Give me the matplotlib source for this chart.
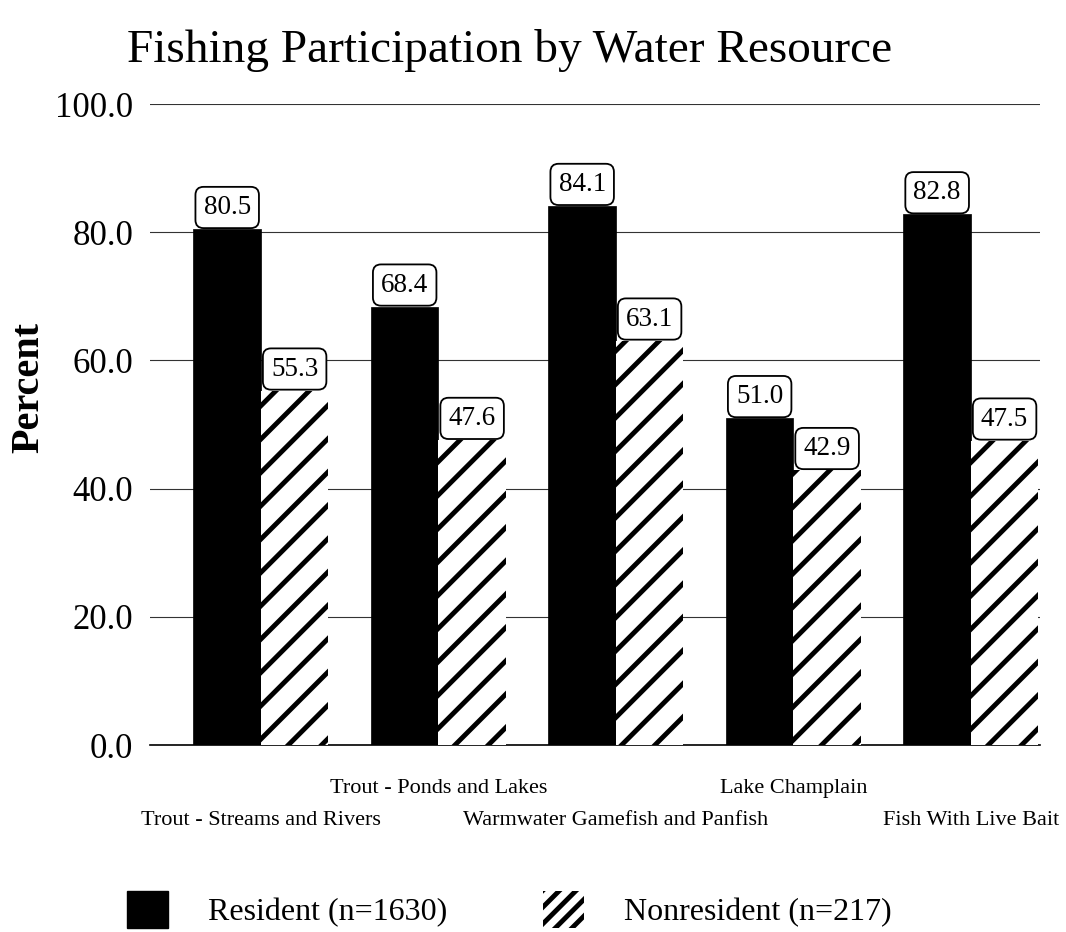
import matplotlib
matplotlib.use('Agg')
import matplotlib.pyplot as plt
import matplotlib.transforms as mtransforms
from matplotlib.patches import Patch
import numpy as np

# Данные графика
categories = ['Trout - Streams and Rivers', 'Trout - Ponds and Lakes',
              'Warmwater Gamefish and Panfish', 'Lake Champlain',
              'Fish With Live Bait']
resident = [80.5, 68.4, 84.1, 51.0, 82.8]
nonresident = [55.3, 47.6, 63.1, 42.9, 47.5]
series_labels = ['Resident (n=1630)', 'Nonresident (n=217)']
y_ticks = [0, 20, 40, 60, 80, 100]

plt.rcParams['font.family'] = ['Liberation Serif', 'DejaVu Serif']
plt.rcParams['hatch.linewidth'] = 3.5
plt.rcParams['hatch.color'] = 'black'

fig = plt.figure(figsize=(10.66, 9.32), dpi=100)
ax = fig.add_axes([0.1407, 0.2006, 0.835, 0.6878])

x = np.arange(len(categories))
w = 0.38
b1 = ax.bar(x - w / 2, resident, w, color='black', edgecolor='black', linewidth=0.5, zorder=3)
b2 = ax.bar(x + w / 2, nonresident, w, color='white', edgecolor='black', hatch='/',
            linewidth=0, zorder=3)

# Подписи значений в рамках
for bars, vals in ((b1, resident), (b2, nonresident)):
    for rect, v in zip(bars, vals):
        ax.annotate('%.1f' % v, xy=(rect.get_x() + rect.get_width() / 2, v),
                    xytext=(0, 6.5), textcoords='offset points',
                    ha='center', va='bottom', fontsize=19.5, zorder=5,
                    bbox=dict(boxstyle='round,pad=0.3,rounding_size=0.3',
                              fc='white', ec='black', lw=1.3))

ax.set_ylim(0, 100)
ax.set_xlim(-0.625, 4.39)
ax.set_yticks(y_ticks)
ax.set_yticklabels(['%.1f' % t for t in y_ticks], fontsize=25)
ax.yaxis.grid(True, color='#333333', linewidth=0.8, zorder=0)
ax.set_axisbelow(True)
for s in ('left', 'right', 'top'):
    ax.spines[s].set_visible(False)
ax.spines['bottom'].set_linewidth(1.2)
ax.tick_params(axis='y', length=0, pad=12)
ax.tick_params(axis='x', length=0)
ax.set_xticks([])

fig.text(0.027, 0.584, 'Percent', rotation=90, ha='center', va='center',
         fontsize=29, fontweight='bold')

# Подписи категорий в два ряда
trans = mtransforms.blended_transform_factory(ax.transData, ax.transAxes)
for i, name in enumerate(categories):
    yoff = -0.068 if i % 2 else -0.117
    ax.text(x[i], yoff, name, transform=trans, ha='center', va='center', fontsize=16)

fig.text(0.478, 0.946, 'Fishing Participation by Water Resource', ha='center', va='center',
         fontsize=34)

handles = [Patch(facecolor='black', edgecolor='black'),
           Patch(facecolor='white', edgecolor='black', hatch='//', linewidth=0)]
fig.legend(handles, series_labels, loc='center left', bbox_to_anchor=(0.119, 0.024),
           ncol=2, frameon=False, fontsize=23, handlelength=1.28, handleheight=1.44,
           handletextpad=1.25, columnspacing=3.0, borderpad=0, borderaxespad=0)

plt.savefig('out.png', dpi=100)
plt.close()
